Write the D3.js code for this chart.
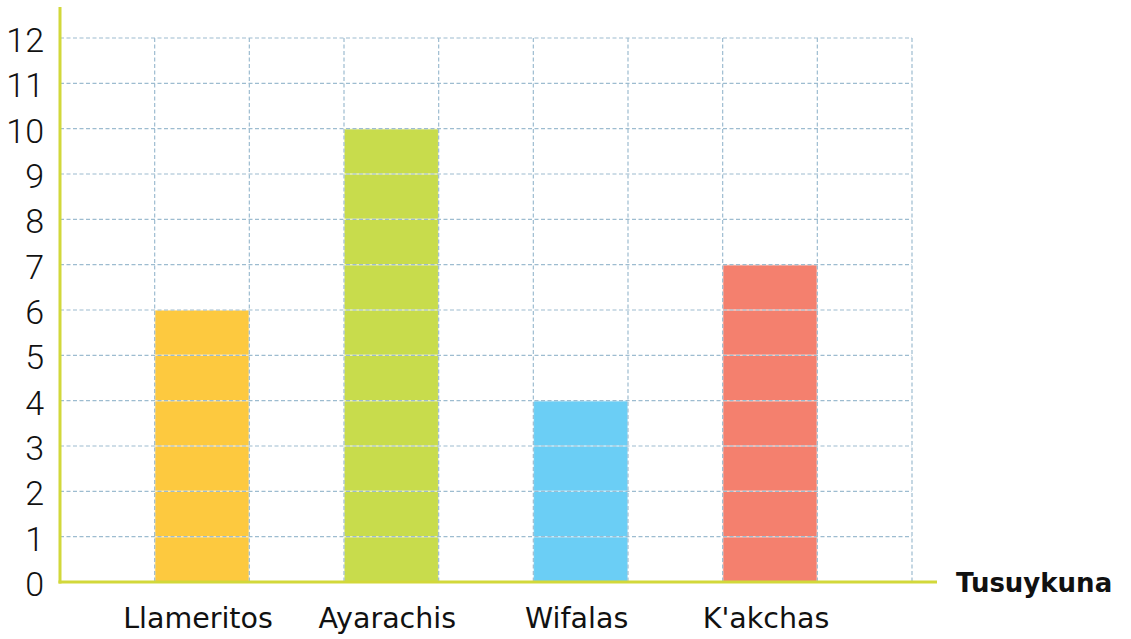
<!DOCTYPE html>
<html>
<head>
<meta charset="utf-8">
<script src="https://cdn.jsdelivr.net/npm/d3@7"></script>
<style>
  html, body { margin: 0; padding: 0; background: #fff; }
  svg { display: block; }
</style>
</head>
<body>
<svg id="chart" width="1131" height="639"></svg>
<script>
// Dance groups and how many members each has
const categories = ["Llameritos", "Ayarachis", "Wifalas", "K'akchas"];
const values = [6, 10, 4, 7];
const barColors = ["#FDC93F", "#C8DC4C", "#6BCEF5", "#F4806E"];
const yTicks = d3.range(0, 13);
const axisTitle = "Tusuykuna";

const svg = d3.select("#chart");

const plotLeft = 60, plotRight = 912, plotTop = 38, plotBottom = 582;
const axisColor = "#D2D83A";
const gridColor = "#9DBCD0";

// nine equal columns: each group takes an empty column followed by its bar column
const nCols = categories.length * 2 + 1;
const xCol = d3.scaleLinear().domain([0, nCols]).range([plotLeft, plotRight]);
const y = d3.scaleLinear().domain([0, 12]).range([plotBottom, plotTop]);

// bars
svg.append("g").selectAll("rect")
  .data(categories)
  .join("rect")
  .attr("x", (d, i) => xCol(2 * i + 1))
  .attr("y", (d, i) => y(values[i]))
  .attr("width", (d, i) => xCol(2 * i + 2) - xCol(2 * i + 1))
  .attr("height", (d, i) => y(0) - y(values[i]))
  .attr("fill", (d, i) => barColors[i]);

// grid drawn over the bars: light base line with dashed strokes on top
const grid = svg.append("g");
const hLines = yTicks.filter(t => t > 0);
const vLines = d3.range(1, nCols + 1);

grid.selectAll("line.hb").data(hLines).join("line")
  .attr("class", "hb")
  .attr("x1", plotLeft).attr("x2", plotRight)
  .attr("y1", d => y(d)).attr("y2", d => y(d))
  .attr("stroke", "#fff").attr("stroke-opacity", 0.6).attr("stroke-width", 1.5);
grid.selectAll("line.vb").data(vLines).join("line")
  .attr("class", "vb")
  .attr("x1", d => xCol(d)).attr("x2", d => xCol(d))
  .attr("y1", plotTop).attr("y2", plotBottom)
  .attr("stroke", "#fff").attr("stroke-opacity", 0.6).attr("stroke-width", 1.5);

grid.selectAll("line.h").data(hLines).join("line")
  .attr("class", "h")
  .attr("x1", plotLeft).attr("x2", plotRight)
  .attr("y1", d => y(d)).attr("y2", d => y(d))
  .attr("stroke", gridColor).attr("stroke-width", 1.2)
  .attr("stroke-dasharray", "4,2.5");
grid.selectAll("line.v").data(vLines).join("line")
  .attr("class", "v")
  .attr("x1", d => xCol(d)).attr("x2", d => xCol(d))
  .attr("y1", plotTop).attr("y2", plotBottom)
  .attr("stroke", gridColor).attr("stroke-width", 1.2)
  .attr("stroke-dasharray", "4,2.5");

// axis lines
svg.append("line")
  .attr("x1", plotLeft).attr("x2", plotLeft)
  .attr("y1", 7).attr("y2", plotBottom + 1.5)
  .attr("stroke", axisColor).attr("stroke-width", 3);
svg.append("line")
  .attr("x1", plotLeft - 1.5).attr("x2", 937)
  .attr("y1", plotBottom).attr("y2", plotBottom)
  .attr("stroke", axisColor).attr("stroke-width", 3);

// y tick labels
svg.append("g").selectAll("text")
  .data(yTicks).join("text")
  .attr("x", 44)
  .attr("y", d => y(d) + 2)
  .attr("text-anchor", "end")
  .attr("dominant-baseline", "central")
  .attr("font-family", "Roboto, 'Open Sans', sans-serif")
  .attr("font-weight", 300)
  .attr("font-size", 34)
  .attr("fill", "#111")
  .text(d => d);

// category labels
svg.append("g").selectAll("text")
  .data(categories).join("text")
  .attr("x", (d, i) => (xCol(2 * i + 1) + xCol(2 * i + 2)) / 2 - 4)
  .attr("y", 628)
  .attr("text-anchor", "middle")
  .attr("font-family", "'DejaVu Sans', sans-serif")
  .attr("font-size", 28.5)
  .attr("fill", "#111")
  .text(d => d);

// axis title
svg.append("text")
  .attr("x", 956).attr("y", 592)
  .attr("font-family", "'DejaVu Sans', sans-serif")
  .attr("font-weight", "bold")
  .attr("font-size", 26)
  .attr("fill", "#111")
  .text(axisTitle);
</script>
</body>
</html>
